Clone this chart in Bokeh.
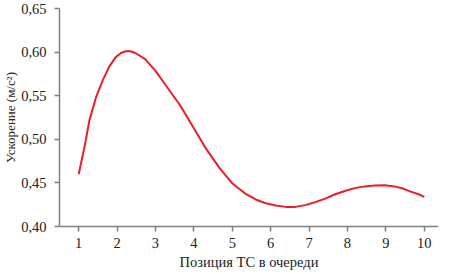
from bokeh.plotting import figure
from bokeh.models import FixedTicker, Range1d
from bokeh.embed import file_html
from bokeh.resources import INLINE

# Data
pos = [1.00, 1.15, 1.28, 1.45, 1.62, 1.79, 1.96, 2.10, 2.22, 2.35, 2.48, 2.73,
       2.99, 3.30, 3.64, 3.98, 4.32, 4.67, 5.01, 5.36, 5.61, 5.85, 6.13, 6.40,
       6.64, 6.90, 7.16, 7.42, 7.68, 7.95, 8.19, 8.45, 8.71, 8.97, 9.22, 9.45,
       9.65, 9.85, 10.00]
acc = [0.460, 0.491, 0.522, 0.548, 0.567, 0.583, 0.594, 0.599, 0.601, 0.601,
       0.599, 0.592, 0.579, 0.560, 0.539, 0.514, 0.489, 0.467, 0.449, 0.437,
       0.431, 0.427, 0.424, 0.4225, 0.4225, 0.4245, 0.428, 0.432, 0.437, 0.441,
       0.444, 0.446, 0.447, 0.4472, 0.446, 0.4435, 0.440, 0.437, 0.434]

x_ticks = [1, 2, 3, 4, 5, 6, 7, 8, 9, 10]
y_ticks = [0.40, 0.45, 0.50, 0.55, 0.60, 0.65]
y_tick_labels = ["0,40", "0,45", "0,50", "0,55", "0,60", "0,65"]

x_title = "Позиция ТС в очереди"
y_title = "Ускорение (м/с²)"

FONT = "Liberation Serif"

p = figure(width=438, height=272, output_backend="svg", toolbar_location=None,
           x_range=Range1d(0.5, 10.37), y_range=Range1d(0.40, 0.65),
           min_border_left=55, min_border_right=0, min_border_top=8,
           min_border_bottom=46)
p.outline_line_color = None
p.grid.grid_line_color = None
p.background_fill_color = "white"

p.line(pos, acc, line_color="#ee1c25", line_width=2, line_join="round")

for ax in (p.xaxis[0], p.yaxis[0]):
    ax.axis_line_color = "#808080"
    ax.axis_line_width = 1.5
    ax.major_tick_line_color = "#808080"
    ax.major_tick_line_width = 1.5
    ax.major_tick_in = 0
    ax.major_tick_out = 5
    ax.minor_tick_line_color = None
    ax.major_label_text_font = FONT
    ax.major_label_text_font_size = "14.5px"
    ax.major_label_text_color = "#222222"
    ax.axis_label_text_font = FONT
    ax.axis_label_text_font_style = "normal"
    ax.axis_label_text_color = "#222222"

p.xaxis.axis_label_text_font_size = "14.5px"
p.yaxis.axis_label_text_font_size = "13px"
p.xaxis.ticker = FixedTicker(ticks=x_ticks)
p.yaxis.ticker = FixedTicker(ticks=y_ticks)
p.yaxis.major_label_overrides = {t: l for t, l in zip(y_ticks, y_tick_labels)}
p.xaxis.axis_label = x_title
p.yaxis.axis_label = y_title
p.xaxis.major_label_standoff = 6
p.xaxis.axis_label_standoff = 3
p.yaxis.major_label_standoff = 8
p.yaxis.axis_label_standoff = 0

open("out.html", "w").write(file_html(p, INLINE))
